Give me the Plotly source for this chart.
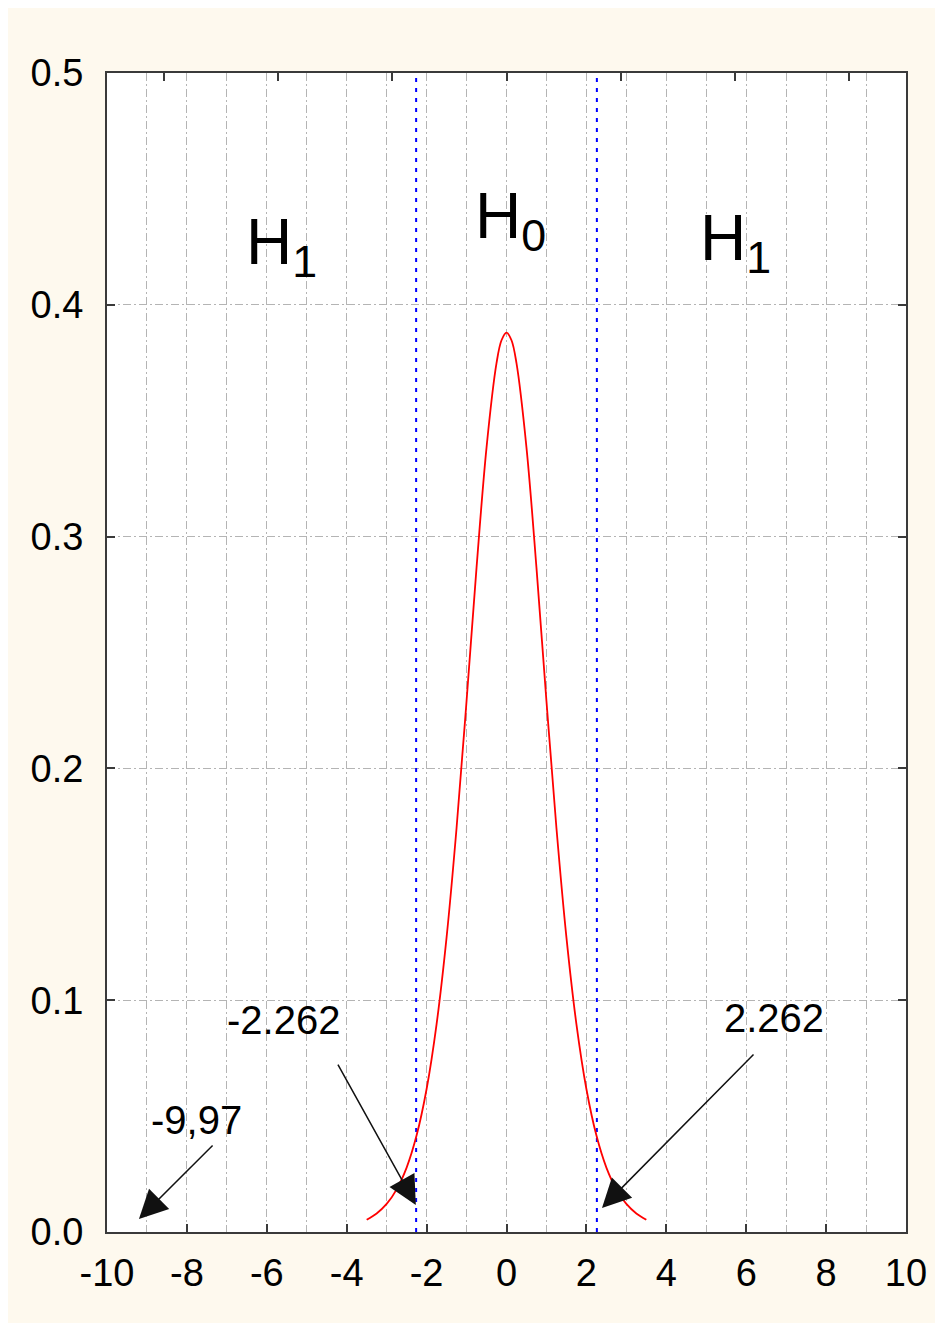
import plotly.graph_objects as go

# ---- data ----
curve_x = [-3.5, -3.25, -3.0, -2.75, -2.5, -2.25, -2.0, -1.75, -1.5, -1.25, -1.0, -0.75, -0.5, -0.25, -0.125,
           0.0, 0.125, 0.25, 0.5, 0.75, 1.0, 1.25, 1.5, 1.75, 2.0, 2.25, 2.5, 2.75, 3.0, 3.25, 3.5]
curve_y = [0.0053, 0.0080, 0.0121, 0.0184, 0.0278, 0.0417, 0.0617, 0.0897, 0.1271, 0.1743, 0.2291, 0.2866, 0.3384, 0.3748, 0.3847,
           0.3880, 0.3847, 0.3748, 0.3384, 0.2866, 0.2291, 0.1743, 0.1271, 0.0897, 0.0617, 0.0417, 0.0278, 0.0184, 0.0121, 0.0080, 0.0053]
critical_values = [-2.262, 2.262]
x_tick_vals = [-10, -8, -6, -4, -2, 0, 2, 4, 6, 8, 10]
x_tick_text = ["-10", "-8", "-6", "-4", "-2", "0", "2", "4", "6", "8", "10"]
y_tick_vals = [0.0, 0.1, 0.2, 0.3, 0.4, 0.5]
y_tick_text = ["0.0", "0.1", "0.2", "0.3", "0.4", "0.5"]
top_tick_vals = [0, 1, 2, 3, 4, 5, 6]

hyp_labels = ["H<sub>1</sub>", "H<sub>0</sub>", "H<sub>1</sub>"]
hyp_x = [-5.62, 0.09, 5.72]
hyp_y = [0.4254, 0.4368, 0.4271]

note_text = ["-2.262", "2.262", "-9,97"]
note_x = [-5.59, 6.70, -7.75]
note_y = [0.0915, 0.0923, 0.0483]
arrow_tail_x = [-4.24, 6.22, -7.32]
arrow_tail_y = [0.0729, 0.0772, 0.0380]
arrow_head_x = [-2.27, 2.39, -9.20]
arrow_head_y = [0.0117, 0.0104, 0.0056]

FONT = "Liberation Sans, Arial, sans-serif"
CREAM = "#FEF9EE"
FRAME = "#3a3a3a"
GRID = "#B4B4B4"
GRIDDASH = "8px,3px,2px,3px"

fig = go.Figure()

# critical value lines
for cv in critical_values:
    fig.add_trace(go.Scatter(x=[cv, cv], y=[y_tick_vals[0], y_tick_vals[-1]], mode="lines",
                             line=dict(color="#0000FF", width=2, dash="4px,6px"),
                             hoverinfo="skip", showlegend=False))

# density curve
fig.add_trace(go.Scatter(x=curve_x, y=curve_y, mode="lines",
                         line=dict(color="#FF0000", width=1.8, shape="spline", smoothing=1.0),
                         showlegend=False))

# anchor trace for the top axis (invisible)
fig.add_trace(go.Scatter(x=top_tick_vals, y=[y_tick_vals[0]] * len(top_tick_vals), xaxis="x2",
                         mode="markers", marker=dict(opacity=0), hoverinfo="skip", showlegend=False))

annotations = []
for t, x, y in zip(hyp_labels, hyp_x, hyp_y):
    annotations.append(dict(x=x, y=y, xref="x", yref="y", text=t, showarrow=False,
                            xanchor="center", yanchor="middle",
                            font=dict(family=FONT, size=64, color="black")))
for t, x, y in zip(note_text, note_x, note_y):
    annotations.append(dict(x=x, y=y, xref="x", yref="y", text=t, showarrow=False,
                            xanchor="center", yanchor="middle",
                            font=dict(family=FONT, size=40, color="black")))
for hx, hy, tx, ty in zip(arrow_head_x, arrow_head_y, arrow_tail_x, arrow_tail_y):
    annotations.append(dict(x=hx, y=hy, ax=tx, ay=ty, xref="x", yref="y", axref="x", ayref="y",
                            text="", showarrow=True, arrowhead=2, arrowsize=3.8, arrowwidth=1.5,
                            arrowcolor="#111111", standoff=0, startstandoff=0))

# the page body adds an 8px offset; margins are chosen so the plot frame lands where the reference has it
fig.update_layout(
    width=935, height=1315,
    margin=dict(l=99, r=37, t=65, b=91, pad=0),
    paper_bgcolor=CREAM, plot_bgcolor="white",
    showlegend=False,
    font=dict(family=FONT, size=38, color="black"),
    xaxis=dict(range=[-10, 10], tickmode="array", tickvals=x_tick_vals, ticktext=x_tick_text,
               ticks="inside", ticklen=8, tickwidth=2, tickcolor=FRAME,
               showgrid=True, gridcolor=GRID, gridwidth=1, griddash=GRIDDASH,
               minor=dict(dtick=1, showgrid=True, gridcolor=GRID, gridwidth=1, griddash=GRIDDASH, ticks=""),
               showline=True, linecolor=FRAME, linewidth=2, mirror=True,
               zeroline=False, tickfont=dict(family=FONT, size=38),
               ticklabelstandoff=6),
    xaxis2=dict(range=[-0.5, 6.5], overlaying="x", side="top", anchor="y",
                tickmode="array", tickvals=top_tick_vals, ticks="inside", ticklen=8, tickwidth=2,
                tickcolor=FRAME, showticklabels=False, showgrid=False, showline=False, zeroline=False),
    yaxis=dict(range=[0, 0.5], tickmode="array", tickvals=y_tick_vals, ticktext=y_tick_text,
               ticks="inside", ticklen=8, tickwidth=2, tickcolor=FRAME,
               showgrid=True, gridcolor=GRID, gridwidth=1, griddash=GRIDDASH,
               showline=True, linecolor=FRAME, linewidth=2, mirror="ticks",
               zeroline=False, tickfont=dict(family=FONT, size=38),
               ticklabelstandoff=14),
    annotations=annotations,
)

fig.write_html("out.html")
